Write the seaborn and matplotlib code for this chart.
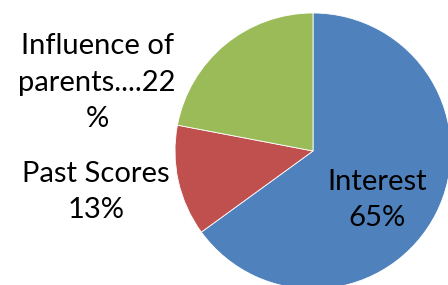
import matplotlib
matplotlib.use('Agg')
import matplotlib.pyplot as plt
import seaborn as sns

# valores
categorias = ['Interest', 'Past Scores', 'Influence of parents....']
percentuais = [65, 13, 22]
rotulos = ['Interest\n65%', 'Past Scores\n13%', 'Influence of\nparents....22\n%']
cores = ['#4F81BD', '#C0504D', '#9BBB59']

sns.set_theme(style='white')
plt.rcParams['font.family'] = ['Lato', 'DejaVu Sans']

fig = plt.figure(figsize=(4.48, 2.85), dpi=100)
ax = fig.add_axes([0, 0, 1, 1])

ax.pie(percentuais, colors=sns.color_palette(cores), startangle=90,
       counterclock=False, radius=1.0,
       wedgeprops=dict(linewidth=0.6, edgecolor='white'))

# eixos ajustados para o recorte da imagem original
ax.set_xlim(-313 / 138, (448 - 313) / 138)
ax.set_ylim(-(285 - 151) / 138, 151 / 138)
ax.set_aspect('auto')
ax.axis('off')

# posições dos rótulos (em coordenadas do pie)
posicoes = [(0.467, -0.355), (-1.572, -0.297), (-1.565, 0.493)]
for texto, (x, y) in zip(rotulos, posicoes):
    ax.text(x, y, texto, ha='center', va='center', fontsize=21,
            linespacing=1.5, color='black')

fig.savefig('out.png', dpi=100)
